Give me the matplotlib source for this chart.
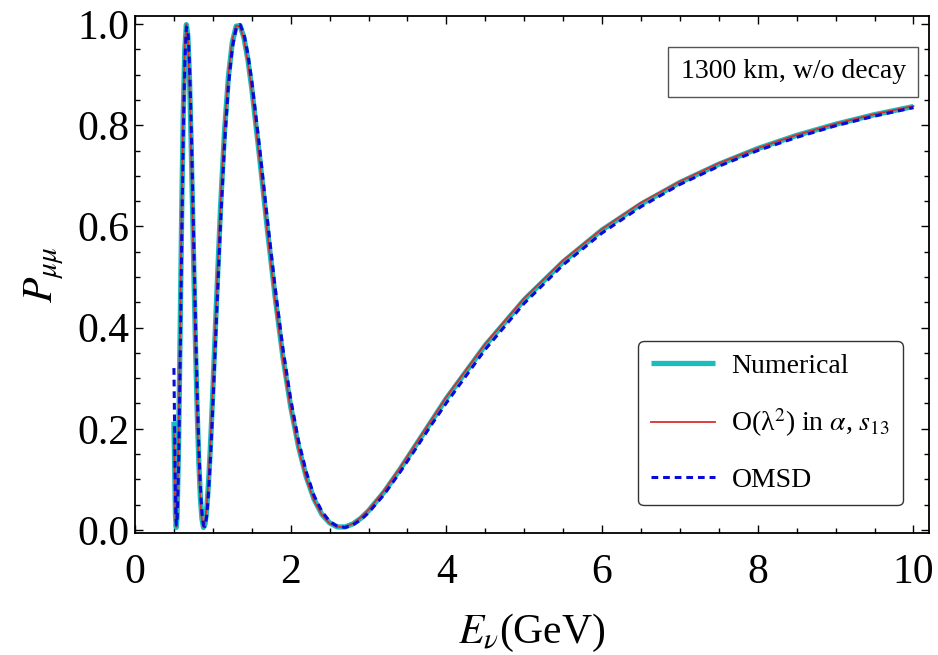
import numpy as np
import matplotlib.pyplot as plt
from matplotlib.ticker import MultipleLocator

plt.rcParams['font.family'] = ['Liberation Serif', 'DejaVu Serif']
plt.rcParams['mathtext.fontset'] = 'stix'

# Energy grid (GeV)
energy = [0.50, 0.52, 0.53, 0.54, 0.56, 0.58, 0.60, 0.62, 0.64, 0.66, 0.68, 0.70,
          0.72, 0.74, 0.76, 0.78, 0.80, 0.82, 0.84, 0.86, 0.88, 0.90, 0.92, 0.94,
          0.96, 0.98, 1.00, 1.05, 1.10, 1.15, 1.20, 1.25, 1.30, 1.35, 1.40, 1.45,
          1.50, 1.60, 1.70, 1.80, 1.90, 2.00, 2.10, 2.20, 2.30, 2.40, 2.50, 2.60,
          2.70, 2.80, 2.90, 3.00, 3.20, 3.40, 3.60, 3.80, 4.00, 4.50, 5.00, 5.50,
          6.00, 6.50, 7.00, 7.50, 8.00, 8.50, 9.00, 9.50, 10.0]

p_numerical = [0.214, 0.029, 0.005, 0.025, 0.168, 0.392, 0.628, 0.824, 0.951, 0.999, 0.975, 0.894,
               0.773, 0.631, 0.485, 0.347, 0.229, 0.133, 0.064, 0.022, 0.005, 0.012, 0.039, 0.082,
               0.138, 0.203, 0.276, 0.463, 0.641, 0.788, 0.896, 0.964, 0.996, 0.997, 0.973, 0.930,
               0.873, 0.738, 0.595, 0.461, 0.342, 0.244, 0.165, 0.105, 0.061, 0.031, 0.014, 0.006,
               0.006, 0.012, 0.023, 0.038, 0.075, 0.119, 0.166, 0.213, 0.260, 0.365, 0.455, 0.530,
               0.593, 0.644, 0.687, 0.723, 0.754, 0.780, 0.802, 0.821, 0.837]

p_lambda2 = [0.190, 0.021, 0.006, 0.033, 0.188, 0.416, 0.652, 0.841, 0.960, 1.000, 0.968, 0.880,
             0.755, 0.611, 0.466, 0.330, 0.213, 0.121, 0.056, 0.018, 0.005, 0.015, 0.045, 0.090,
             0.149, 0.215, 0.288, 0.477, 0.654, 0.798, 0.903, 0.969, 0.997, 0.995, 0.969, 0.924,
             0.867, 0.730, 0.587, 0.452, 0.335, 0.237, 0.160, 0.101, 0.058, 0.030, 0.013, 0.006,
             0.006, 0.013, 0.025, 0.040, 0.078, 0.122, 0.169, 0.216, 0.263, 0.368, 0.458, 0.533,
             0.595, 0.647, 0.689, 0.725, 0.755, 0.781, 0.803, 0.822, 0.838]

p_omsd = [0.320, 0.053, 0.010, 0.011, 0.125, 0.334, 0.570, 0.779, 0.924, 0.994, 0.989, 0.922,
          0.812, 0.676, 0.531, 0.391, 0.266, 0.163, 0.085, 0.034, 0.009, 0.007, 0.026, 0.063,
          0.114, 0.175, 0.245, 0.430, 0.610, 0.762, 0.878, 0.953, 0.992, 0.999, 0.980, 0.941,
          0.888, 0.757, 0.615, 0.480, 0.359, 0.259, 0.177, 0.115, 0.068, 0.037, 0.017, 0.007,
          0.005, 0.010, 0.020, 0.034, 0.070, 0.113, 0.159, 0.206, 0.251, 0.357, 0.448, 0.524,
          0.587, 0.639, 0.683, 0.719, 0.750, 0.776, 0.799, 0.818, 0.835]

labels = ['Numerical', r'O(λ$^2$) in $\alpha$, $s_{13}$', 'OMSD']

fig = plt.figure(figsize=(9.38, 6.55), dpi=100)
ax = fig.add_axes([135 / 938, 122 / 655, 794 / 938, 517 / 655])

ax.plot(energy, p_numerical, color='#1cbcbc', lw=3.8, label=labels[0],
        solid_capstyle='butt')
ax.plot(energy, p_lambda2, color='#d8302c', lw=1.3, label=labels[1])
ax.plot(energy, p_omsd, color='#0a0ad8', lw=2.2, dashes=(2.2, 1.6),
        label=labels[2])

ax.set_xlim(0, 10.2)
ax.set_ylim(-0.006, 1.016)
ax.xaxis.set_minor_locator(MultipleLocator(0.5))
ax.yaxis.set_minor_locator(MultipleLocator(0.05))
ax.set_xticks([0, 2, 4, 6, 8, 10])
ax.set_xticklabels(['0', '2', '4', '6', '8', '10'])
ax.set_yticks([0.0, 0.2, 0.4, 0.6, 0.8, 1.0])
ax.set_yticklabels(['0.0', '0.2', '0.4', '0.6', '0.8', '1.0'])

ax.tick_params(which='both', direction='in', top=True, right=True,
               width=1.0, labelsize=30)
ax.tick_params(which='major', length=6)
ax.tick_params(which='minor', length=3.5)
ax.tick_params(axis='x', pad=15)
ax.tick_params(axis='y', pad=4)
for sp in ax.spines.values():
    sp.set_linewidth(1.3)

ax.set_xlabel(r'$E_{\nu}$(GeV)', fontsize=30, labelpad=14)
ax.set_ylabel(r'$P_{\mu\mu}$', fontsize=30, labelpad=8)

ax.text(0.829, 0.892, '1300 km, w/o decay', transform=ax.transAxes,
        fontsize=20, ha='center', va='center',
        bbox=dict(boxstyle='square,pad=0.45', fc='white', ec='#555555', lw=1.0))

leg = ax.legend(loc='lower right', bbox_to_anchor=(0.967, 0.054),
                borderaxespad=0, fontsize=20, handlelength=2.3,
                handletextpad=0.6, labelspacing=1.0, borderpad=0.45,
                fancybox=True, framealpha=1, edgecolor='#333333')
leg.get_frame().set_linewidth(1.0)

fig.savefig('out.png', dpi=100)
